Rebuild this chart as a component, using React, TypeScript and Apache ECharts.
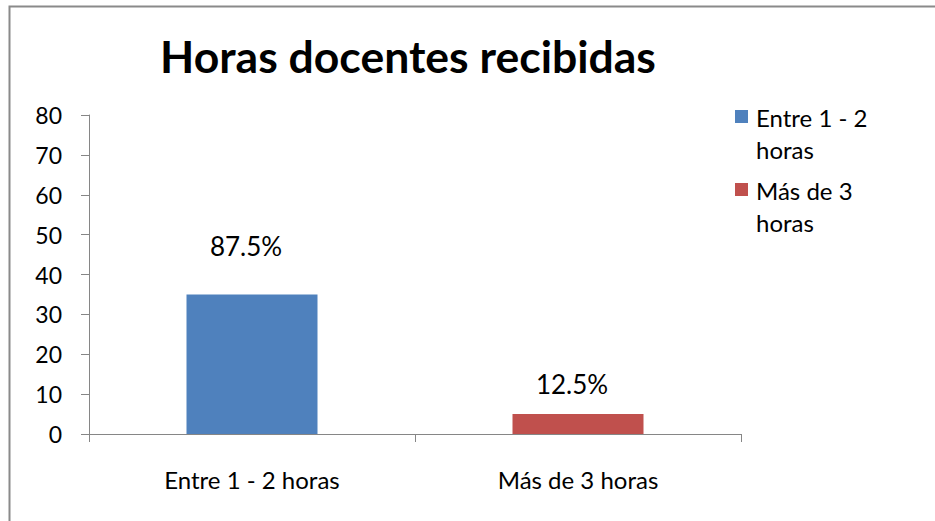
import React, { useEffect, useRef } from "react";
import * as echarts from "echarts";

const categories = ["Entre 1 - 2 horas", "Más de 3 horas"];
const legendLines = [["Entre 1 - 2", "horas"], ["Más de 3", "horas"]];
const values = [35, 5];
const colors = ["#4F81BD", "#C0504D"];
const yTicks = { min: 0, max: 80, interval: 10 };
const titleText = "Horas docentes recibidas";
const labelOffsets = [-30, -12];

const FONT = "Lato, 'Open Sans', sans-serif";

export default function App() {
  const ref = useRef<HTMLDivElement>(null);
  useEffect(() => {
    document.body.style.margin = "0";
    const chart = echarts.init(ref.current!, null, { renderer: "svg" });
    const total = values.reduce((a, b) => a + b, 0);
    const series = categories.map((name, i) => ({
      name,
      type: "bar",
      barWidth: 131,
      barGap: "-100%",
      itemStyle: { color: colors[i] },
      data: values.map((v, j) => (j === i ? v : null)),
      label: {
        show: true,
        position: "top",
        offset: [-6, labelOffsets[i]],
        fontFamily: FONT,
        fontSize: 26,
        color: "#000",
        formatter: (p: any) => ((p.value / total) * 100).toFixed(1) + "%",
      },
    }));
    const legendGraphics: any[] = [];
    legendLines.forEach((lines, i) => {
      const top = 110 + i * 73;
      legendGraphics.push({
        type: "rect",
        shape: { x: 735, y: top, width: 13, height: 13 },
        style: { fill: colors[i] },
      });
      lines.forEach((ln, k) => {
        legendGraphics.push({
          type: "text",
          x: 756,
          y: top + 7 + k * 32,
          style: {
            text: ln,
            fontFamily: FONT,
            fontSize: 24,
            fill: "#000",
            textVerticalAlign: "middle",
            textAlign: "left",
          },
        });
      });
    });
    chart.setOption({
      animation: false,
      backgroundColor: "#fff",
      grid: { left: 89, right: 194, top: 115, bottom: 87, containLabel: false },
      xAxis: {
        type: "category",
        data: categories,
        axisLine: { lineStyle: { color: "#868686", width: 1 } },
        axisTick: { show: true, length: 8, lineStyle: { color: "#868686" } },
        axisLabel: { color: "#000", fontFamily: FONT, fontSize: 24, margin: 33 },
      },
      yAxis: {
        type: "value",
        min: yTicks.min,
        max: yTicks.max,
        interval: yTicks.interval,
        splitLine: { show: false },
        axisLine: { show: true, lineStyle: { color: "#868686", width: 1 } },
        axisTick: { show: true, length: 8, lineStyle: { color: "#868686" } },
        axisLabel: { color: "#000", fontFamily: FONT, fontSize: 23, margin: 27 },
      },
      series,
      graphic: [
        {
          type: "text",
          x: 408,
          y: 55,
          style: {
            text: titleText,
            fontFamily: FONT,
            fontWeight: "bold",
            fontSize: 44.5,
            fill: "#000",
            textAlign: "center",
            textVerticalAlign: "middle",
          },
        },
        {
          type: "polyline",
          shape: { points: [[9.5, 521], [9.5, 6.5], [935, 6.5]] },
          style: { stroke: "#8a8a8a", lineWidth: 2, fill: "none" },
        },
        ...legendGraphics,
      ],
    });
    return () => chart.dispose();
  }, []);
  return <div ref={ref} style={{ width: 935, height: 521 }} />;
}
